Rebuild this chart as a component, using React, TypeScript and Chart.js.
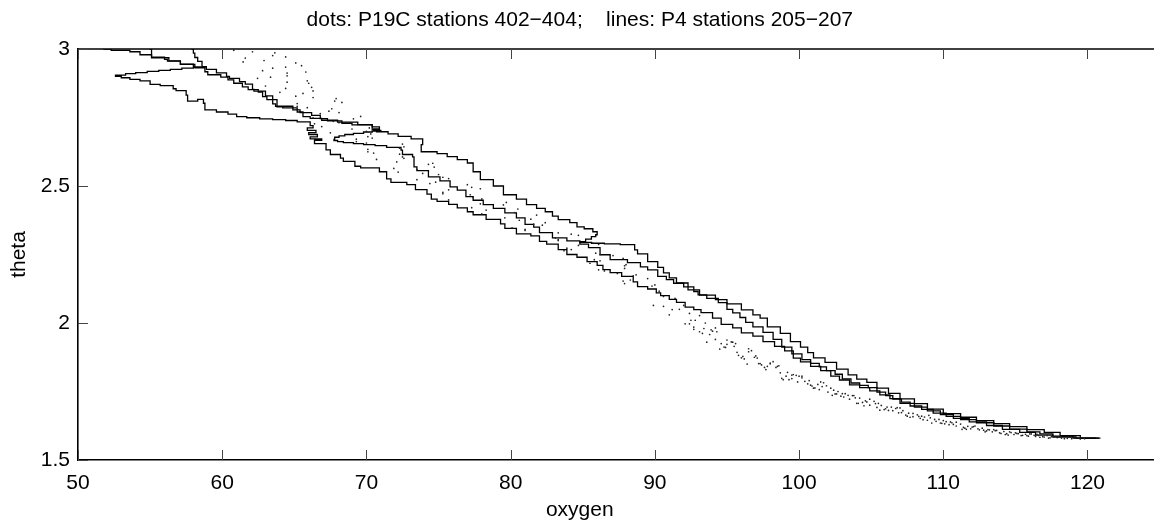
import React, { useEffect, useRef } from "react";
import { Chart, registerables } from "chart.js";

Chart.register(...registerables);

const titleText = "dots: P19C stations 402\u2212404;    lines: P4 stations 205\u2212207";
const xLabel = "oxygen";
const yLabel = "theta";
const xTicks = [50, 60, 70, 80, 90, 100, 110, 120];
const yTicks = [1.5, 2, 2.5, 3];
const xMin = 50;
const xMax = 125;
const yMin = 1.5;
const yMax = 3;

// P4 profiles (lines): [oxygen, theta]
const line205: [number, number][] = [
  [51.8, 3.004], [52.3, 3.0], [53.6, 2.995], [54.3, 2.99], [55.1, 2.979], [56.0, 2.97], [56.2, 2.962], [57.1, 2.956],
  [58.0, 2.945], [58.8, 2.935], [58.0, 2.933], [57.2, 2.93], [56.4, 2.926], [55.6, 2.922], [54.8, 2.918], [54.0, 2.914],
  [53.3, 2.91], [52.6, 2.905], [53.0, 2.9], [53.6, 2.895], [54.3, 2.889],
  [55.0, 2.884], [55.7, 2.871], [56.6, 2.866], [56.8, 2.855], [57.5, 2.848], [57.6, 2.832], [58.3, 2.81], [58.7, 2.816],
  [58.8, 2.802], [59.6, 2.778], [60.4, 2.77], [61.0, 2.762], [61.7, 2.753], [62.6, 2.749], [63.5, 2.745], [64.4, 2.742],
  [65.2, 2.739], [66.1, 2.734], [66.3, 2.72],
  [65.9, 2.712], [66.5, 2.703], [66.0, 2.695], [66.6, 2.688], [66.1, 2.679], [66.9, 2.672], [66.4, 2.667], [67.2, 2.655],
  [67.5, 2.632], [68.2, 2.615], [68.4, 2.602], [69.2, 2.59], [69.6, 2.572], [70.9, 2.566], [71.4, 2.552], [71.7, 2.526],
  [72.8, 2.513], [73.4, 2.505], [74.2, 2.487], [74.5, 2.47], [74.9, 2.452], [75.7, 2.444], [76.3, 2.433], [77.0, 2.42],
  [77.4, 2.406], [78.3, 2.395], [79.3, 2.378], [79.6, 2.362], [80.4, 2.345], [81.4, 2.325], [82.0, 2.318], [82.5, 2.298],
  [83.3, 2.288], [83.9, 2.268], [84.6, 2.25], [85.3, 2.24], [86.0, 2.224], [86.4, 2.21], [86.9, 2.195], [87.7, 2.184],
  [88.5, 2.17], [88.8, 2.15], [89.5, 2.133], [90.1, 2.124], [90.4, 2.11], [91.0, 2.1], [91.5, 2.086], [92.1, 2.075],
  [92.7, 2.058], [93.2, 2.049], [94.0, 2.038], [94.6, 2.018], [95.4, 1.995], [96.0, 1.982], [96.8, 1.964], [97.5, 1.952],
  [98.3, 1.932], [99.0, 1.915], [99.6, 1.898], [100.1, 1.872], [100.8, 1.858], [101.5, 1.842], [102.2, 1.826], [102.8, 1.806],
  [103.5, 1.792], [104.2, 1.774], [104.9, 1.764], [105.6, 1.752], [106.3, 1.738], [107.0, 1.724], [108.0, 1.707], [108.9, 1.693],
  [109.8, 1.679], [110.7, 1.666], [111.8, 1.652], [113.0, 1.639], [114.1, 1.626], [115.3, 1.612], [116.4, 1.601], [117.6, 1.591],
  [119.2, 1.584], [120.9, 1.58],
];

const line206: [number, number][] = [
  [55.0, 3.01], [55.1, 3.0], [55.1, 2.978], [56.3, 2.968], [57.1, 2.957], [58.1, 2.944], [58.8, 2.931], [59.0, 2.917],
  [59.9, 2.906], [60.4, 2.897], [60.8, 2.887], [61.4, 2.875], [61.8, 2.862], [62.5, 2.852], [62.8, 2.843], [63.1, 2.826],
  [63.8, 2.815], [64.2, 2.789], [65.2, 2.785], [65.6, 2.77], [66.1, 2.753], [66.9, 2.747], [68.0, 2.74], [69.4, 2.733],
  [70.4, 2.724], [70.9, 2.716], [70.5, 2.708], [71.0, 2.703], [70.4, 2.7], [69.8, 2.697], [69.1, 2.692], [68.5, 2.688],
  [68.1, 2.683], [67.8, 2.678], [67.75, 2.67], [68.0, 2.666], [68.4, 2.662], [69.1, 2.658], [69.8, 2.655], [70.6, 2.651],
  [71.4, 2.647], [72.4, 2.641], [72.5, 2.631], [73.2, 2.615], [73.3, 2.606], [73.5, 2.57],
  [74.3, 2.556], [75.1, 2.533], [75.8, 2.519], [76.3, 2.497], [76.9, 2.485], [77.4, 2.461], [78.1, 2.448], [78.8, 2.432],
  [79.6, 2.418], [80.4, 2.402], [81.0, 2.384], [81.6, 2.36], [82.0, 2.35], [82.9, 2.33], [83.9, 2.311], [84.8, 2.3],
  [85.4, 2.288], [86.2, 2.275], [86.9, 2.249], [88.1, 2.231], [89.0, 2.22], [89.5, 2.205], [90.2, 2.194], [90.8, 2.17],
  [91.3, 2.158], [92.0, 2.145], [92.7, 2.132], [93.0, 2.115], [93.6, 2.103], [94.4, 2.09], [95.0, 2.074], [95.4, 2.05],
  [95.9, 2.037], [96.3, 2.02], [96.8, 2.002], [97.5, 1.986], [98.2, 1.966], [98.8, 1.94], [99.5, 1.912], [100.2, 1.887],
  [100.8, 1.866], [101.4, 1.853], [101.9, 1.84], [102.5, 1.826], [103.0, 1.813], [103.6, 1.796], [104.2, 1.781], [104.8, 1.772],
  [105.4, 1.764], [106.0, 1.748], [106.5, 1.735], [107.1, 1.722], [107.7, 1.711], [108.5, 1.697], [109.3, 1.685], [110.2, 1.671],
  [111.2, 1.659], [112.3, 1.647], [113.5, 1.636], [114.6, 1.624], [115.8, 1.613], [116.7, 1.603], [117.6, 1.595], [119.0, 1.587],
  [120.6, 1.58],
];

const line207: [number, number][] = [
  [57.9, 3.01], [58.0, 3.0], [58.1, 2.985], [58.3, 2.969], [58.6, 2.955], [58.9, 2.936], [59.6, 2.926], [60.3, 2.913],
  [60.5, 2.9], [61.2, 2.893], [61.6, 2.881], [62.1, 2.872], [62.2, 2.853], [63.0, 2.846], [63.5, 2.829], [63.7, 2.8],
  [64.9, 2.791], [65.4, 2.778], [66.2, 2.768], [66.8, 2.758], [67.3, 2.746], [68.3, 2.738], [69.0, 2.729], [70.4, 2.723],
  [70.7, 2.705], [71.5, 2.698], [72.2, 2.69], [73.1, 2.681], [73.9, 2.672], [73.8, 2.651], [74.9, 2.625], [75.6, 2.618],
  [76.3, 2.607], [77.0, 2.596], [77.4, 2.584], [77.9, 2.552], [78.8, 2.523], [79.5, 2.5], [80.4, 2.468], [81.1, 2.452],
  [81.8, 2.432], [82.4, 2.418], [82.9, 2.406], [83.3, 2.39], [84.1, 2.377], [84.6, 2.366], [85.1, 2.351], [85.7, 2.344],
  [86.0, 2.333], [85.9, 2.322], [85.6, 2.315], [85.2, 2.306], [84.8, 2.297], [85.6, 2.294], [86.5, 2.291], [87.6, 2.289],
  [88.6, 2.286], [88.8, 2.267], [89.5, 2.252],
  [90.2, 2.224], [90.6, 2.203], [91.0, 2.183], [91.5, 2.165], [92.3, 2.146], [93.1, 2.121], [94.2, 2.102], [95.0, 2.085],
  [96.0, 2.07], [96.8, 2.048], [97.3, 2.03], [97.8, 2.018], [98.7, 1.986], [99.4, 1.962], [100.1, 1.932], [100.6, 1.912],
  [101.0, 1.892], [101.8, 1.873], [102.6, 1.856], [103.4, 1.832], [104.0, 1.811], [104.7, 1.795], [105.4, 1.783], [106.2, 1.762],
  [107.0, 1.743], [108.0, 1.723], [108.9, 1.706], [110.0, 1.686], [111.2, 1.669], [112.3, 1.656], [113.5, 1.644], [114.6, 1.633],
  [115.8, 1.622], [117.0, 1.611], [118.1, 1.601], [119.5, 1.589], [120.8, 1.58],
];

// P19C samples (dots): [oxygen, theta]
const dots402: [number, number][] = [
  [60.8, 2.995], [63.5, 2.976], [62.9, 2.958], [65.5, 2.939], [62.8, 2.921], [64.5, 2.902], [65.9, 2.884], [63.0, 2.865],
  [66.3, 2.847], [65.1, 2.828], [67.8, 2.81], [65.2, 2.791], [67.4, 2.773], [69.6, 2.754], [67.7, 2.736], [66.9, 2.717],
  [70.0, 2.699], [70.1, 2.68], [69.3, 2.662], [72.6, 2.643], [70.1, 2.625], [72.5, 2.606], [72.1, 2.588], [74.7, 2.569],
  [72.2, 2.551], [75.3, 2.532], [74.8, 2.514], [77.3, 2.495], [75.3, 2.477], [77.4, 2.458], [79.7, 2.44], [77.3, 2.421],
  [80.3, 2.403], [79.6, 2.384], [82.4, 2.366], [80.1, 2.347], [83.3, 2.329], [83.1, 2.31], [85.7, 2.292], [83.9, 2.273],
  [85.9, 2.255], [87.8, 2.236], [85.5, 2.218], [87.9, 2.199], [87.4, 2.181], [89.5, 2.162], [87.9, 2.144],
  [89.9, 2.064], [90.6, 2.097], [91.2, 2.049], [92.0, 2.064], [92.7, 1.977], [93.4, 1.98], [94.2, 1.982], [94.9, 1.911],
  [95.6, 1.925], [96.4, 1.85], [97.1, 1.872], [97.8, 1.842], [98.6, 1.844], [99.3, 1.793], [100.0, 1.806], [100.8, 1.773],
  [101.5, 1.785], [102.3, 1.736], [103.0, 1.742], [103.8, 1.735], [104.5, 1.698], [105.3, 1.706], [106.0, 1.687], [106.8, 1.691],
  [107.5, 1.66], [108.3, 1.659], [109.0, 1.663], [109.8, 1.635], [110.5, 1.639], [111.3, 1.612], [112.0, 1.62], [112.8, 1.609],
  [113.5, 1.611], [114.3, 1.593], [115.0, 1.599], [115.8, 1.589], [116.5, 1.594], [117.3, 1.58], [118.0, 1.584], [118.8, 1.584],
  [119.5, 1.577],
  [92.4, 2.035], [93.1, 1.968], [93.9, 1.975], [94.6, 1.925], [95.4, 1.93], [96.1, 1.878], [96.9, 1.875], [97.6, 1.838],
  [98.4, 1.838], [99.1, 1.806], [99.8, 1.809], [100.6, 1.778], [101.3, 1.776], [102.0, 1.748], [102.7, 1.75], [103.5, 1.722],
  [104.2, 1.726], [104.9, 1.7], [105.7, 1.699], [106.5, 1.68], [107.2, 1.68], [107.9, 1.658], [108.7, 1.657], [109.5, 1.641],
  [110.2, 1.64], [110.9, 1.624], [111.7, 1.623], [112.5, 1.61], [113.2, 1.61], [114.0, 1.597], [114.7, 1.6], [115.5, 1.59],
  [116.3, 1.59], [117.0, 1.584], [117.8, 1.586], [118.6, 1.579], [119.3, 1.581],
];

const dots403: [number, number][] = [
  [63.65, 2.986], [61.6, 2.967], [65.1, 2.949], [63.5, 2.93], [64.5, 2.912], [62.45, 2.893], [66.0, 2.875], [64.4, 2.856],
  [65.6, 2.838], [67.9, 2.819], [65.2, 2.801], [67.6, 2.782], [66.8, 2.764], [69.1, 2.745], [66.4, 2.727], [69.0, 2.708],
  [70.3, 2.69], [69.3, 2.671], [72.5, 2.653], [70.1, 2.634], [72.3, 2.616], [70.7, 2.597], [74.3, 2.579], [73.5, 2.56],
  [75.0, 2.542], [73.5, 2.523], [77.0, 2.505], [75.7, 2.486], [77.2, 2.468], [75.7, 2.449], [79.5, 2.431], [78.3, 2.412],
  [81.8, 2.394], [80.6, 2.375], [82.2, 2.357], [81.0, 2.338], [84.7, 2.32], [83.3, 2.301], [84.7, 2.283], [83.7, 2.264],
  [87.1, 2.246], [86.2, 2.227], [87.9, 2.209], [86.5, 2.19], [88.5, 2.172], [87.8, 2.153], [89.8, 2.135],
  [90.3, 2.116], [91.0, 2.03], [91.7, 2.05], [92.4, 1.997], [93.1, 2.027], [93.8, 1.958], [94.5, 1.905], [95.3, 1.931],
  [96.0, 1.873], [96.7, 1.899], [97.4, 1.847], [98.2, 1.859], [98.9, 1.793], [99.6, 1.812], [100.4, 1.787], [101.1, 1.763],
  [101.9, 1.771], [102.6, 1.741], [103.4, 1.736], [104.1, 1.707], [104.9, 1.722], [105.6, 1.682], [106.4, 1.693], [107.1, 1.673],
  [107.9, 1.67], [108.6, 1.647], [109.4, 1.648], [110.1, 1.632], [110.9, 1.638], [111.6, 1.612], [112.4, 1.614], [113.1, 1.611],
  [113.9, 1.599], [114.6, 1.603], [115.4, 1.589], [116.1, 1.595], [116.9, 1.585], [117.6, 1.586], [118.4, 1.578], [119.1, 1.582],
  [92.7, 1.985], [93.5, 2.0], [94.2, 1.94], [95.0, 1.938], [95.7, 1.893], [96.5, 1.895], [97.2, 1.852], [98.0, 1.851],
  [98.7, 1.818], [99.5, 1.797], [100.2, 1.8], [100.9, 1.77], [101.6, 1.768], [102.4, 1.755], [103.1, 1.73], [103.9, 1.727],
  [104.6, 1.716], [105.4, 1.692], [106.1, 1.693], [106.9, 1.672], [107.6, 1.671], [108.4, 1.652], [109.1, 1.654], [109.9, 1.634],
  [110.6, 1.636], [111.4, 1.619], [112.1, 1.622], [112.9, 1.603], [113.6, 1.607], [114.4, 1.596], [115.1, 1.597], [115.9, 1.587],
  [116.6, 1.59], [117.4, 1.581], [118.1, 1.585], [118.9, 1.578], [119.7, 1.58],
];

const dots404: [number, number][] = [
  [62.1, 2.99], [64.4, 2.971], [61.45, 2.953], [64.4, 2.934], [65.8, 2.916], [63.35, 2.897], [64.5, 2.879], [66.2, 2.86],
  [64.0, 2.842], [66.3, 2.823], [68.3, 2.805], [65.9, 2.786], [68.1, 2.768], [66.3, 2.749], [68.1, 2.731], [70.2, 2.712],
  [67.5, 2.694], [70.4, 2.675], [70.0, 2.657], [72.3, 2.638], [70.5, 2.62], [72.6, 2.601], [74.6, 2.583], [71.9, 2.564],
  [73.9, 2.546], [75.7, 2.527], [74.4, 2.509], [77.9, 2.49], [75.3, 2.472], [78.0, 2.453], [77.9, 2.435], [80.5, 2.416],
  [78.0, 2.398], [81.4, 2.379], [81.6, 2.361], [81.0, 2.342], [84.2, 2.324], [83.3, 2.305], [86.1, 2.287], [84.2, 2.268],
  [86.2, 2.25], [85.8, 2.231], [88.0, 2.213], [86.1, 2.194], [88.7, 2.176], [88.3, 2.157], [90.0, 2.139],
  [90.6, 2.061], [91.4, 2.09], [92.1, 1.997], [92.8, 2.01], [93.6, 1.93], [94.3, 1.968], [95.0, 1.922], [95.8, 1.882],
  [96.5, 1.906], [97.3, 1.852], [98.0, 1.854], [98.8, 1.798], [99.5, 1.81], [100.2, 1.806], [101.0, 1.762], [101.7, 1.782],
  [102.5, 1.741], [103.2, 1.742], [104.0, 1.707], [104.7, 1.712], [105.5, 1.707], [106.2, 1.681], [107.0, 1.69], [107.7, 1.656],
  [108.5, 1.66], [109.2, 1.635], [110.0, 1.644], [110.7, 1.63], [111.5, 1.616], [112.2, 1.624], [113.0, 1.606], [113.7, 1.608],
  [114.5, 1.591], [115.2, 1.596], [116.0, 1.595], [116.7, 1.583], [117.5, 1.585], [118.2, 1.58], [119.0, 1.582], [119.8, 1.578],
  [92.5, 2.01], [93.3, 1.962], [94.0, 1.97], [94.8, 1.912], [95.5, 1.915], [96.2, 1.869], [97.0, 1.88], [97.7, 1.83],
  [98.5, 1.842], [99.2, 1.82], [99.9, 1.785], [100.7, 1.79], [101.4, 1.757], [102.2, 1.762], [102.9, 1.733], [103.7, 1.735],
  [104.4, 1.71], [105.2, 1.714], [105.9, 1.684], [106.7, 1.688], [107.4, 1.664], [108.2, 1.665], [108.9, 1.645], [109.7, 1.648],
  [110.4, 1.629], [111.2, 1.631], [111.9, 1.614], [112.7, 1.616], [113.4, 1.603], [114.2, 1.604], [114.9, 1.593], [115.7, 1.594],
  [116.4, 1.586], [117.2, 1.589], [117.9, 1.582], [118.7, 1.583], [119.5, 1.579],
];

const FONT = "'Liberation Sans', Arial, Helvetica, sans-serif";
const toXY = (arr: [number, number][]) => arr.map(([x, y]) => ({ x, y }));

const matlabAxes = {
  id: "matlabAxes",
  afterDraw(chart: any) {
    const { ctx, chartArea, scales } = chart;
    const xs = scales.x;
    const ys = scales.y;
    ctx.save();
    ctx.strokeStyle = "#000";
    ctx.lineWidth = 1.6;
    ctx.beginPath();
    ctx.moveTo(chartArea.left, chartArea.top);
    ctx.lineTo(chartArea.right, chartArea.top);
    ctx.stroke();
    ctx.strokeStyle = "#444";
    ctx.lineWidth = 1;
    ctx.beginPath();
    for (const v of xTicks) {
      const px = Math.round(xs.getPixelForValue(v)) + 0.5;
      ctx.moveTo(px, chartArea.bottom);
      ctx.lineTo(px, chartArea.bottom - 10);
      ctx.moveTo(px, chartArea.top);
      ctx.lineTo(px, chartArea.top + 10);
    }
    for (const v of yTicks) {
      const py = Math.round(ys.getPixelForValue(v)) + 0.5;
      ctx.moveTo(chartArea.left, py);
      ctx.lineTo(chartArea.left + 10, py);
    }
    ctx.stroke();
    ctx.restore();
  },
};

export default function App() {
  const ref = useRef<HTMLCanvasElement | null>(null);
  useEffect(() => {
    if (!ref.current) return;
    const lineDs = (label: string, arr: [number, number][]) => ({
      label,
      data: toXY(arr),
      showLine: true,
      stepped: "after",
      borderColor: "#000",
      borderWidth: 1.3,
      pointRadius: 0,
      fill: false,
      tension: 0,
    });
    const dotDs = (label: string, arr: [number, number][]) => ({
      label,
      data: toXY(arr),
      showLine: false,
      pointRadius: 0.85,
      pointBorderWidth: 0,
      pointBackgroundColor: "#222",
      pointBorderColor: "#222",
    });
    const chart = new Chart(ref.current, {
      type: "scatter",
      data: {
        datasets: [
          dotDs("P19C 402", dots402),
          dotDs("P19C 403", dots403),
          dotDs("P19C 404", dots404),
          lineDs("P4 205", line205),
          lineDs("P4 206", line206),
          lineDs("P4 207", line207),
        ],
      },
      plugins: [matlabAxes],
      options: {
        responsive: false,
        animation: false,
        devicePixelRatio: 1,
        layout: { padding: { left: 0, right: 10.4, top: 0, bottom: 0 } },
        plugins: {
          legend: { display: false },
          tooltip: { enabled: false },
          title: {
            display: true,
            text: titleText,
            color: "#000",
            font: { family: FONT, size: 21, weight: "normal", lineHeight: 1.2 },
            padding: { top: 8, bottom: 15.8 },
          },
          subtitle: {
            display: true,
            position: "bottom",
            text: xLabel,
            color: "#000",
            font: { family: FONT, size: 21, weight: "normal", lineHeight: 1.2 },
            padding: { top: 1.6, bottom: 4.2 },
          },
        },
        scales: {
          x: {
            type: "linear",
            min: xMin,
            max: xMax,
            afterBuildTicks: (s: any) => {
              s.ticks = xTicks.map((v) => ({ value: v }));
            },
            afterFit: (s: any) => {
              s.height = 36;
            },
            grid: { display: false, drawTicks: false, tickLength: 0 },
            border: { display: true, color: "#000", width: 1.6 },
            ticks: {
              color: "#000",
              padding: 11,
              maxRotation: 0,
              autoSkip: false,
              font: { family: FONT, size: 21, lineHeight: 1.2 },
              callback: (v: any) => String(v),
            },
            title: { display: false },
          },
          y: {
            type: "linear",
            min: yMin,
            max: yMax,
            afterBuildTicks: (s: any) => {
              s.ticks = yTicks.map((v) => ({ value: v }));
            },
            afterFit: (s: any) => {
              s.width = 78;
            },
            grid: { display: false, drawTicks: false, tickLength: 0 },
            border: { display: true, color: "#000", width: 1.6 },
            ticks: {
              color: "#000",
              padding: 8,
              autoSkip: false,
              font: { family: FONT, size: 21, lineHeight: 1.2 },
              callback: (v: any) => String(v),
            },
            title: {
              display: true,
              text: yLabel,
              color: "#000",
              font: { family: FONT, size: 21, lineHeight: 1.2 },
              padding: { top: 6.4, bottom: 0 },
            },
          },
        },
      },
    } as any);
    return () => chart.destroy();
  }, []);
  return (
    <div
      style={{
        position: "absolute",
        left: 0,
        top: 0,
        width: 1154,
        height: 527,
        overflow: "hidden",
        background: "#fff",
      }}
    >
      <canvas ref={ref} width={1170} height={527} style={{ display: "block", width: 1170, height: 527 }} />
    </div>
  );
}
